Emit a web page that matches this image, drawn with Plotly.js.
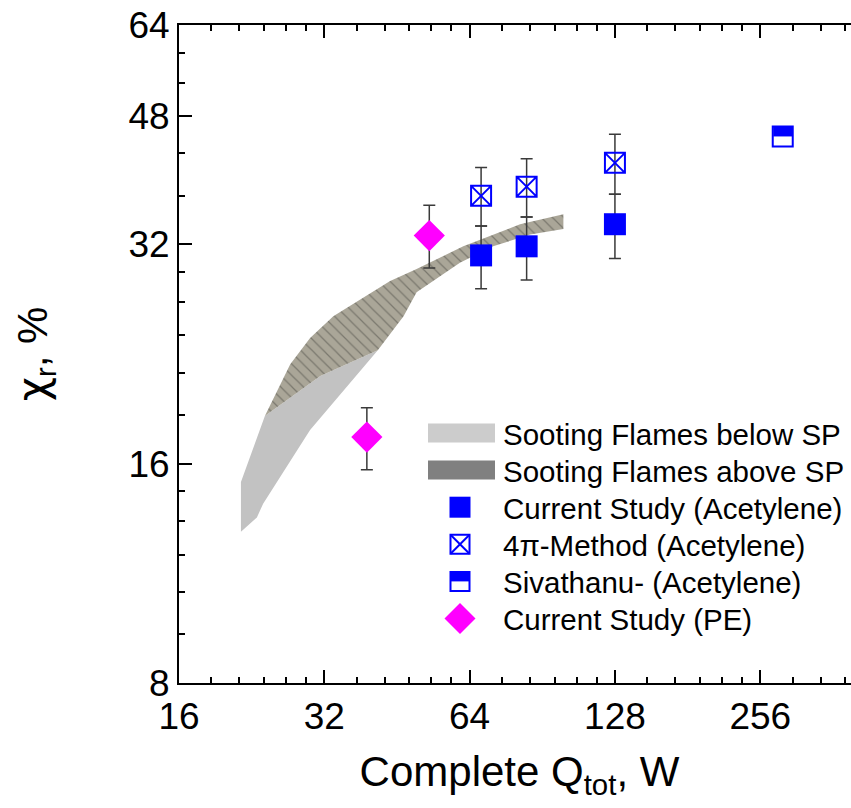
<!DOCTYPE html>
<html><head><meta charset="utf-8">
<script src="https://cdn.plot.ly/plotly-3.0.1.min.js"></script>
<style>html,body{margin:0;padding:0;overflow:hidden;background:#fff}</style>
</head><body><div id="chart"></div>
<script>
// ---- data ----
const belowSPx = [21.5, 21.5, 24.1, 31.4, 41.3, 29.9, 23.9, 23.2, 21.5];
const belowSPy = [12.9, 15.1, 18.6, 21.1, 22.9, 17.8, 14.1, 13.5, 12.9];

const aboveSPx = [24.1, 27.2, 29.9, 33.4, 43.8, 49.7, 62.1, 81.4, 100.1, 100.1, 85.4, 71.6, 61.1, 49.7, 46.7, 41.3, 31.4, 24.1];
const aboveSPy = [18.6, 21.9, 23.8, 25.5, 28.5, 29.6, 31.8, 34.1, 35.2, 33.6, 33.0, 31.8, 30.2, 27.5, 25.5, 22.9, 21.1, 18.6];

const acetQ = [67.6, 84.0, 128];
const acetChi = [30.9, 31.8, 34.1];
const acetErrPlus = [3.0, 3.1, 3.4];
const acetErrMinus = [3.1, 3.2, 3.5];

const fourPiQ = [67.6, 84.0, 128];
const fourPiChi = [37.3, 38.4, 41.4];
const fourPiErrPlus = [3.5, 3.55, 3.9];
const fourPiErrMinus = [3.4, 3.5, 3.9];

const sivQ = [285];
const sivChi = [45.0];

const peQ = [39.2, 52.8];
const peChi = [17.4, 32.9];
const peErrPlus = [1.7, 3.3];
const peErrMinus = [1.7, 3.2];

const xTicks = [16, 32, 64, 128, 256];
const xTickText = ['16', '32', '64', '128', '256'];
const xMinor = [18.667, 21.333, 24, 26.667, 29.333, 37.333, 42.667, 48, 53.333, 58.667,
  74.667, 85.333, 96, 106.667, 117.333, 149.333, 170.667, 192, 213.333, 234.667, 298.667, 341.333, 384];
const yTicks = [8, 16, 32, 48, 64];
const yTickText = ['8', '16', '32', '48', '64'];
const yMinor = [9.333, 10.667, 12, 13.333, 14.667, 18.667, 21.333, 24, 26.667, 29.333, 37.333, 42.667, 53.333, 58.667];

const legendLabels = ['Sooting Flames below SP', 'Sooting Flames above SP', 'Current Study (Acetylene)',
  '4\u03c0-Method (Acetylene)', 'Sivathanu- (Acetylene)', 'Current Study (PE)'];
const legendIcons = ['fillLight', 'fillDark', 'square', 'squareX', 'squareHalf', 'diamond'];

// ---- layout geometry ----
const W = 870, H = 808;
const M = {l: 179, r: 10, t: 25, b: 125};
const yMinV = 8, yMaxV = 64, xMinV = 16, xMaxV = 412;
const plotW = W - M.l - M.r, plotH = H - M.t - M.b;
const pxPerOct = plotH / Math.log2(yMaxV / yMinV);
const halfPx = 9.5;
const sivTop = sivChi.map(v => v * (Math.pow(2, halfPx / pxPerOct) - 1));

const FONT = 'Liberation Sans, Arial, sans-serif';
const BLUE = '#0000ff', MAGENTA = '#ff00ff';
const errStyle = {color: '#3a3a3a', thickness: 1.5, width: 6};

const traces = [
  {x: belowSPx, y: belowSPy, type: 'scatter', mode: 'none', fill: 'toself',
   fillcolor: '#c2c2c2', name: legendLabels[0], hoverinfo: 'skip'},
  {x: aboveSPx, y: aboveSPy, type: 'scatter', mode: 'none', fill: 'toself',
   fillcolor: '#a9a597',
   fillpattern: {shape: '\\', bgcolor: '#aaa698', fgcolor: '#7a786e', size: 8, solidity: 0.15},
   name: legendLabels[1], hoverinfo: 'skip'},
  {x: acetQ, y: acetChi, type: 'scatter', mode: 'markers', name: legendLabels[2],
   marker: {symbol: 'square', size: 22, color: BLUE, line: {width: 0}},
   error_y: Object.assign({type: 'data', symmetric: false, array: acetErrPlus, arrayminus: acetErrMinus}, errStyle)},
  {x: fourPiQ, y: fourPiChi, type: 'scatter', mode: 'markers', name: legendLabels[3],
   marker: {symbol: 'square-x-open', size: 20, color: BLUE, line: {width: 2, color: BLUE}},
   error_y: Object.assign({type: 'data', symmetric: false, array: fourPiErrPlus, arrayminus: fourPiErrMinus}, errStyle)},
  {x: sivQ, y: sivChi, type: 'scatter', mode: 'markers', name: legendLabels[4],
   marker: {symbol: 'square-open', size: 20, color: BLUE, line: {width: 2, color: BLUE}},
   error_y: {type: 'data', symmetric: false, array: sivTop, arrayminus: [0], color: BLUE, thickness: 19, width: 0}},
  {x: peQ, y: peChi, type: 'scatter', mode: 'markers', name: legendLabels[5],
   marker: {symbol: 'diamond', size: 24, color: MAGENTA, line: {width: 0}},
   error_y: Object.assign({type: 'data', symmetric: false, array: peErrPlus, arrayminus: peErrMinus}, errStyle)}
];
traces.forEach(t => t.showlegend = false);

// ---- hand-built legend (paper coordinates from pixel layout) ----
const px2x = p => (p - M.l) / plotW;
const px2y = p => (H - M.b - p) / plotH;
const LEG = {iconX: 460, textX: 501, row0: 433, step: 37.1, fontSize: 29.5};
const shapes = [], annotations = [];
function rect(x0, y0, x1, y1, fill, line) {
  shapes.push({type: 'rect', xref: 'paper', yref: 'paper', x0: px2x(x0), x1: px2x(x1), y0: px2y(y0), y1: px2y(y1),
    fillcolor: fill, line: line || {width: 0}, layer: 'above'});
}
function path(pts, fill, line, close) {
  const d = pts.map((p, i) => (i ? 'L' : 'M') + px2x(p[0]).toFixed(5) + ',' + px2y(p[1]).toFixed(5)).join('') + (close ? 'Z' : '');
  shapes.push({type: 'path', xref: 'paper', yref: 'paper', path: d, fillcolor: fill || 'rgba(0,0,0,0)', line: line || {width: 0}, layer: 'above'});
}
legendLabels.forEach((lab, i) => {
  const cy = LEG.row0 + i * LEG.step, cx = LEG.iconX, icon = legendIcons[i];
  const h = 10.5;
  if (icon === 'fillLight') rect(428, cy - 9.5, 495, cy + 9.5, '#cccccc');
  else if (icon === 'fillDark') rect(428, cy - 9.5, 495, cy + 9.5, '#808080');
  else if (icon === 'square') rect(cx - h, cy - h, cx + h, cy + h, BLUE);
  else if (icon === 'squareX') {
    rect(cx - h + 1, cy - h + 1, cx + h - 1, cy + h - 1, 'rgba(0,0,0,0)', {color: BLUE, width: 2});
    path([[cx - h + 1, cy - h + 1], [cx + h - 1, cy + h - 1]], null, {color: BLUE, width: 2});
    path([[cx - h + 1, cy + h - 1], [cx + h - 1, cy - h + 1]], null, {color: BLUE, width: 2});
  } else if (icon === 'squareHalf') {
    rect(cx - h + 1, cy - h + 1, cx + h - 1, cy, BLUE);
    rect(cx - h + 1, cy - h + 1, cx + h - 1, cy + h - 1, 'rgba(0,0,0,0)', {color: BLUE, width: 2});
  } else if (icon === 'diamond') {
    path([[cx, cy - 15.5], [cx + 15.5, cy], [cx, cy + 15.5], [cx - 15.5, cy]], MAGENTA, {width: 0}, true);
  }
  annotations.push({xref: 'paper', yref: 'paper', x: px2x(LEG.textX), y: px2y(cy + 1), xanchor: 'left', yanchor: 'middle',
    text: lab, showarrow: false, font: {family: FONT, size: LEG.fontSize, color: '#000'}});
});

const axisCommon = {
  type: 'log', showgrid: false, zeroline: false,
  showline: true, linewidth: 2, linecolor: '#000',
  ticks: 'inside', ticklen: 13, tickwidth: 2, tickcolor: '#000',
  tickfont: {family: FONT, size: 37, color: '#000'}
};

const layout = {
  width: W, height: H, margin: M,
  paper_bgcolor: '#fff', plot_bgcolor: '#fff',
  font: {family: FONT, color: '#000'},
  showlegend: false,
  shapes: shapes, annotations: annotations,
  xaxis: Object.assign({}, axisCommon, {
    range: [Math.log10(xMinV), Math.log10(xMaxV)],
    tickmode: 'array', tickvals: xTicks, ticktext: xTickText,
    mirror: 'ticks',
    minor: {tickmode: 'array', tickvals: xMinor, ticks: 'inside', ticklen: 6, tickwidth: 2, tickcolor: '#000', showgrid: false},
    title: {text: 'Complete Q<sub>tot</sub>, W', font: {family: FONT, size: 42, color: '#000'}, standoff: 20}
  }),
  yaxis: Object.assign({}, axisCommon, {
    range: [Math.log10(yMinV), Math.log10(yMaxV)],
    tickmode: 'array', tickvals: yTicks, ticktext: yTickText,
    mirror: false,
    minor: {tickmode: 'array', tickvals: yMinor, ticks: 'inside', ticklen: 6, tickwidth: 2, tickcolor: '#000', showgrid: false},
    title: {text: '<span style="font-family:DejaVu Sans">\u03c7</span><sub>r</sub>, %', font: {family: FONT, size: 42, color: '#000'}, standoff: 68}
  })
};

Plotly.newPlot('chart', traces, layout, {displayModeBar: false, staticPlot: true});
</script>
</body></html>
